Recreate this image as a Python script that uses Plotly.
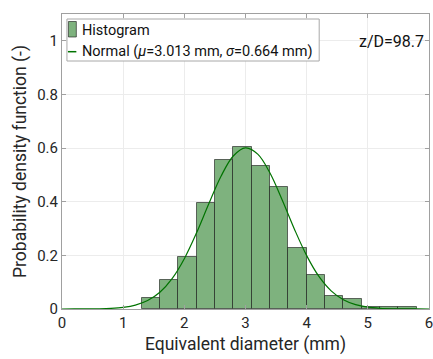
import plotly.graph_objects as go

# ---- data ----
bin_left_edges = [1.3, 1.6, 1.9, 2.2, 2.5, 2.8, 3.1, 3.4, 3.7, 4.0, 4.3, 4.6, 4.9, 5.2, 5.5]
bin_width = 0.3
hist_density = [0.042, 0.108, 0.195, 0.394, 0.555, 0.603, 0.535, 0.455, 0.229, 0.128,
                0.047, 0.036, 0.008, 0.006, 0.006]

curve_x = [0.0, 0.2, 0.4, 0.6, 0.8, 1.0, 1.2, 1.4, 1.6, 1.8, 2.0, 2.2, 2.4, 2.6, 2.8, 3.0,
           3.2, 3.4, 3.6, 3.8, 4.0, 4.2, 4.4, 4.6, 4.8, 5.0, 5.2, 5.4, 5.6, 5.8, 6.0]
curve_y = [0.0000, 0.0001, 0.0003, 0.0008, 0.0023, 0.0061, 0.0145, 0.0314, 0.0624, 0.1133,
           0.1876, 0.2839, 0.3923, 0.4951, 0.5706, 0.6007, 0.5774, 0.5070, 0.4065, 0.2976,
           0.1991, 0.1215, 0.0678, 0.0345, 0.0161, 0.0068, 0.0026, 0.0009, 0.0003, 0.0001,
           0.0000]

x_ticks = [0, 1, 2, 3, 4, 5, 6]
y_ticks = [0, 0.2, 0.4, 0.6, 0.8, 1.0]
y_tick_text = ["0", "0.2", "0.4", "0.6", "0.8", "1"]

legend_hist = "Histogram"
legend_norm = "Normal (<i>μ</i>=3.013 mm, <i>σ</i>=0.664 mm)"
label_text = "z/D=98.7"

# ---- layout geometry (pixels) ----
W, H = 433, 359
ML, MR, MT, MB = 62, 0, 14, 50
PW = W - ML - MR
PH = H - MT - MB

def px(p):
    return (p - ML) / PW

def py(q):
    return (H - MB - q) / PH

FONT = "Roboto"
TXT = "#262626"
BAR_FILL = "rgb(126,178,126)"
BAR_EDGE = "rgba(20,20,20,0.6)"
LINE_COL = "rgb(0,115,0)"

centers = [e + bin_width / 2 for e in bin_left_edges]

fig = go.Figure()
fig.add_trace(go.Bar(x=centers, y=hist_density, width=[bin_width] * len(centers),
                     marker=dict(color=BAR_FILL, line=dict(color=BAR_EDGE, width=1)),
                     showlegend=False))
fig.add_trace(go.Scatter(x=curve_x, y=curve_y, mode="lines", line_shape="spline",
                         line=dict(color=LINE_COL, width=1.2), showlegend=False))

shapes = [
    dict(type="rect", xref="paper", yref="paper", x0=px(67), x1=px(322), y0=py(61), y1=py(19),
         line=dict(color="#a8a8a8", width=1), fillcolor="white", layer="above"),
    dict(type="rect", xref="paper", yref="paper", x0=px(68.5), x1=px(76.5), y0=py(37), y1=py(21.5),
         line=dict(color=BAR_EDGE, width=1), fillcolor=BAR_FILL, layer="above"),
    dict(type="line", xref="paper", yref="paper", x0=px(68), x1=px(76.5), y0=py(51.7), y1=py(51.7),
         line=dict(color=LINE_COL, width=1.5), layer="above"),
]
annotations = [
    dict(text=legend_hist, xref="paper", yref="paper", x=px(80), y=py(31), xanchor="left",
         yanchor="middle", showarrow=False, font=dict(family=FONT, size=14.5, color="#111")),
    dict(text=legend_norm, xref="paper", yref="paper", x=px(80), y=py(51.5), xanchor="left",
         yanchor="middle", showarrow=False, font=dict(family=FONT, size=14.5, color="#111")),
    dict(text=label_text, xref="paper", yref="paper", x=px(360), y=py(42), xanchor="left",
         yanchor="middle", showarrow=False, font=dict(family=FONT, size=16, color="#111")),
]

fig.update_layout(
    width=W, height=H,
    margin=dict(l=ML, r=MR, t=MT, b=MB, pad=0),
    paper_bgcolor="white", plot_bgcolor="white",
    font=dict(family=FONT, size=15, color=TXT),
    bargap=0, shapes=shapes, annotations=annotations, showlegend=False,
)
fig.update_xaxes(range=[0, 6], tickvals=x_ticks, ticks="inside", ticklen=4, tickcolor="#a0a0a0",
                 showline=True, linecolor="#a0a0a0", linewidth=1, mirror="ticks",
                 showgrid=True, gridcolor="#ececec", zeroline=False, ticklabeloverflow="allow",
                 tickfont=dict(family=FONT, size=15, color=TXT),
                 title=dict(text="Equivalent diameter (mm)", font=dict(family=FONT, size=17.5, color=TXT),
                            standoff=6))
fig.update_yaxes(range=[0, 1.1], tickvals=y_ticks, ticktext=y_tick_text, ticks="inside", ticklen=4,
                 tickcolor="#a0a0a0", showline=True, linecolor="#a0a0a0", linewidth=1, mirror="ticks",
                 showgrid=True, gridcolor="#ececec", zeroline=False,
                 tickfont=dict(family=FONT, size=15, color=TXT),
                 title=dict(text="Probability density function (-)",
                            font=dict(family=FONT, size=17.5, color=TXT), standoff=6))

fig.write_html("out.html")
